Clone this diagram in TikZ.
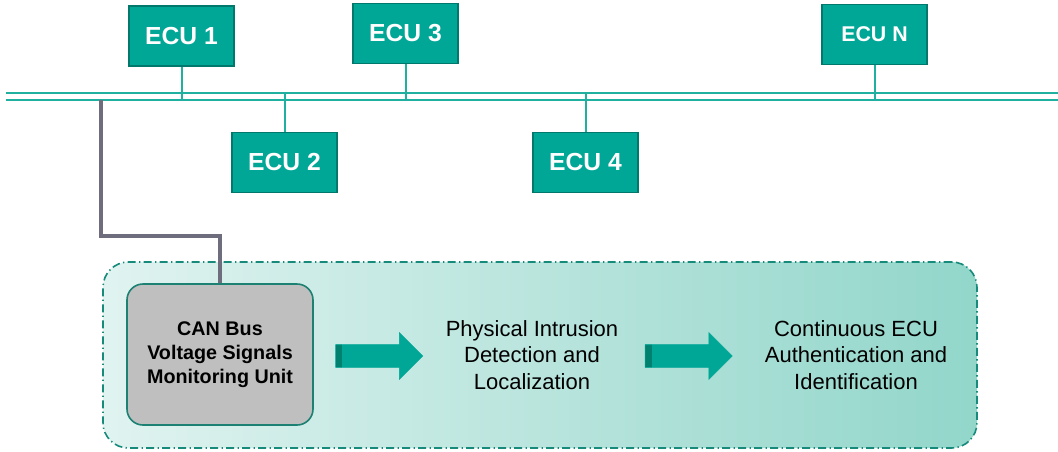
\documentclass[tikz,border=0pt]{standalone}
\usepackage{fontspec}
\setmainfont{Liberation Sans}
\usetikzlibrary{shapes.arrows}
\definecolor{ecufill}{HTML}{00A696}
\definecolor{eculine}{HTML}{00786B}
\definecolor{busline}{HTML}{20B09F}
\definecolor{wiregray}{HTML}{6D6D7D}
\definecolor{monfill}{HTML}{BFBFBF}
\definecolor{monline}{HTML}{1C8072}
\definecolor{arrowdark}{HTML}{00806F}
\definecolor{zoneline}{HTML}{168A7B}
\definecolor{zoneleft}{HTML}{E0F3F0}
\definecolor{zoneright}{HTML}{92D6CA}
\tikzset{
  ecu/.style={draw=eculine, line width=1.1pt, fill=ecufill, text=white,
    minimum width=78.75pt, minimum height=45pt, inner sep=0pt,
    font=\bfseries\fontsize{18.5}{22}\selectfont},
  bus/.style={draw=busline, line width=1.5pt},
  blockarrow/.style={single arrow, fill=ecufill, draw=ecufill, line width=0.4pt,
    minimum height=65.25pt, single arrow head extend=9pt,
    single arrow tip angle=90, single arrow head indent=0pt,
    inner xsep=0pt, inner ysep=8.25pt,
    path picture={\fill[arrowdark] (path picture bounding box.south west)
      rectangle ([xshift=5pt]path picture bounding box.north west);}},
  steptext/.style={align=center, font=\fontsize{16.5}{20}\selectfont}
}
\begin{document}
\begin{tikzpicture}[x=0.75pt, y=-0.75pt]
\useasboundingbox (0,0) rectangle (1058,451);
% monitoring zone
\node[draw=zoneline, line width=1.2pt, dash pattern=on 6pt off 2.5pt on 1pt off 2.5pt,
  rounded corners=19pt, left color=zoneleft, right color=zoneright,
  minimum width=655.5pt, minimum height=139.5pt] (zone) at (540,355){};
% bus
\draw[bus] (6,93) -- (1058,93);
\draw[bus] (6,100) -- (1058,100);
% ECUs
\node[ecu] (ecu1) at (181.5,36){ECU 1};
\node[ecu] (ecu3) at (405.5,33.5){ECU 3};
\node[ecu, font=\bfseries\fontsize{16}{19}\selectfont] (ecuN) at (874.5,34.5){ECU N};
\node[ecu] (ecu2) at (284.5,162.5){ECU 2};
\node[ecu] (ecu4) at (585.5,162.5){ECU 4};
\coordinate (tap1) at (181.5,100);
\coordinate (tap3) at (405.5,100);
\coordinate (tapN) at (874.5,100);
\coordinate (tap2) at (284.5,93);
\coordinate (tap4) at (585.5,93);
\draw[bus] (ecu1) -- (tap1);
\draw[bus] (ecu3) -- (tap3);
\draw[bus] (ecuN) -- (tapN);
\draw[bus] (ecu2) -- (tap2);
\draw[bus] (ecu4) -- (tap4);
% monitoring unit
\node[draw=monline, line width=1.2pt, fill=monfill, rounded corners=12pt,
  minimum width=139.5pt, minimum height=105.75pt, align=center,
  font=\bfseries\fontsize{14.8}{18}\selectfont] (mon) at (220,354.5)
  {CAN Bus\\Voltage Signals\\Monitoring Unit};
\coordinate (tap0) at (101,100);
\draw[wiregray, line width=3pt] (tap0) -- ++(0,136) -| (mon.north);
% steps
\node[blockarrow] (arr1) at (373.5,356){};
\node[steptext] (detect) at (532,355){Physical Intrusion\\Detection and\\Localization};
\node[blockarrow] (arr2) at (683,356){};
\node[steptext] (auth) at (856,355){Continuous ECU\\Authentication and\\Identification};
\end{tikzpicture}
\end{document}
